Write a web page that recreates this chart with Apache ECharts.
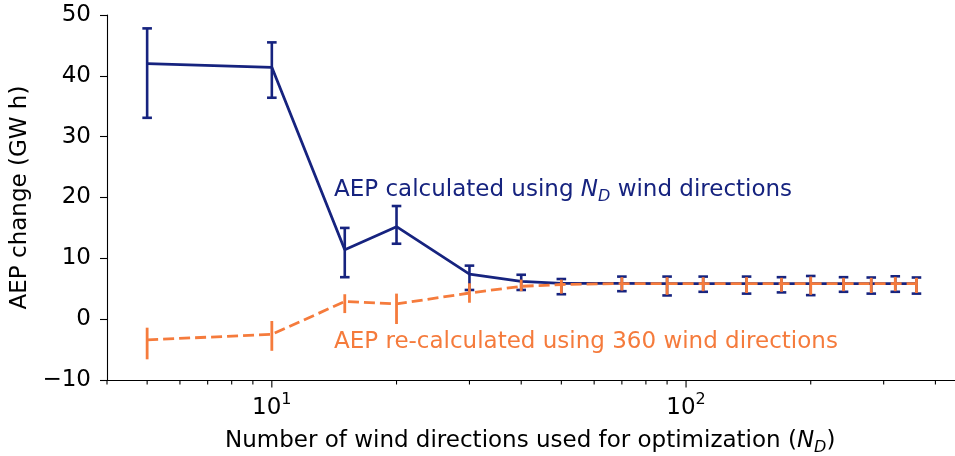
<!DOCTYPE html>
<html>
<head>
<meta charset="utf-8">
<script src="https://cdn.jsdelivr.net/npm/echarts@6/dist/echarts.min.js"></script>
<style>
html,body{margin:0;padding:0;background:#fff;}
#c{width:955px;height:456px;}
</style>
</head>
<body>
<div id="c"></div>
<script>
// Number of wind directions
var nD = [5, 10, 15, 20, 30, 40, 50, 70, 90, 110, 140, 170, 200, 240, 280, 320, 360];
// AEP calculated using N_D directions (GW h)
var calcMean = [42.0, 41.4, 11.4, 15.2, 7.4, 6.2, 5.9, 5.9, 5.85, 5.85, 5.85, 5.85, 5.85, 5.85, 5.85, 5.85, 5.85];
var calcLow  = [33.1, 36.4, 6.9, 12.4, 4.8, 4.8, 4.1, 4.6, 3.9, 4.5, 4.2, 4.4, 3.95, 4.5, 4.2, 4.5, 4.2];
var calcHigh = [47.8, 45.5, 15.0, 18.6, 8.8, 7.3, 6.6, 7.0, 7.0, 7.0, 7.0, 6.9, 7.1, 6.9, 6.85, 7.05, 6.85];
// AEP re-calculated using 360 directions (GW h)
var recMean = [-3.4, -2.5, 2.9, 2.5, 4.3, 5.4, 5.7, 5.85, 5.85, 5.85, 5.85, 5.85, 5.85, 5.85, 5.85, 5.85, 5.85];
var recLow  = [-6.6, -5.2, 1.0, -0.8, 2.7, 4.6, 4.2, 4.7, 4.0, 4.6, 4.3, 4.5, 4.0, 4.6, 4.3, 4.6, 4.3];
var recHigh = [-1.4, -0.3, 4.1, 4.2, 5.9, 6.5, 6.5, 6.9, 6.9, 6.9, 6.9, 6.8, 7.0, 6.8, 6.8, 6.95, 6.8];
// x axis ticks
var majorTicks = [10, 100];
var minorTicks = [4, 5, 6, 7, 8, 9, 20, 30, 40, 50, 60, 70, 80, 90, 200, 300, 400];
var yTicks = [-10, 0, 10, 20, 30, 40, 50];

var BLUE = '#16237f';
var ORANGE = '#f57b3c';
var FONT = 'DejaVu Sans';
var FS = 23;
var FSS = 16;

function pairs(xs, ys) { return xs.map(function (x, i) { return [x, ys[i]]; }); }
function triples(xs, lo, hi) { return xs.map(function (x, i) { return [x, lo[i], hi[i]]; }); }

function errRender(color, cap, width) {
  return function (params, api) {
    var p1 = api.coord([api.value(0), api.value(1)]);
    var p2 = api.coord([api.value(0), api.value(2)]);
    var children = [{
      type: 'line', shape: {x1: p1[0], y1: p1[1], x2: p2[0], y2: p2[1]},
      style: {stroke: color, lineWidth: width}
    }];
    if (cap > 0) {
      children.push({type: 'line', shape: {x1: p1[0] - cap, y1: p1[1], x2: p1[0] + cap, y2: p1[1]}, style: {stroke: color, lineWidth: width}});
      children.push({type: 'line', shape: {x1: p2[0] - cap, y1: p2[1], x2: p2[0] + cap, y2: p2[1]}, style: {stroke: color, lineWidth: width}});
    }
    return {type: 'group', children: children};
  };
}

function tickRender(len) {
  return function (params, api) {
    var p = api.coord([api.value(0), yTicks[0]]);
    return {type: 'line', shape: {x1: p[0], y1: p[1], x2: p[0], y2: p[1] + len},
      style: {stroke: '#000', lineWidth: 1.1}};
  };
}

var chart = echarts.init(document.getElementById('c'), null, {renderer: 'canvas'});
chart.setOption({
  animation: false,
  backgroundColor: '#fff',
  grid: {left: 107, right: -6, top: 15, bottom: 76, containLabel: false},
  xAxis: {
    type: 'log', logBase: 10, min: 4, max: 446,
    axisLine: {show: true, onZero: false, lineStyle: {color: '#000', width: 1.1}},
    axisTick: {show: false},
    minorTick: {show: false},
    splitLine: {show: false},
    axisLabel: {
      margin: 12,
      color: '#000',
      showMinLabel: false, showMaxLabel: false,
      formatter: function (v) {
        var e = Math.round(Math.log10(v));
        if (Math.abs(Math.log10(v) - e) > 1e-6 || majorTicks.indexOf(Math.pow(10, e)) < 0) return '';
        return '{b|10}{s|' + e + '}';
      },
      rich: {
        b: {fontFamily: FONT, fontSize: FS, color: '#000', lineHeight: 32},
        s: {fontFamily: FONT, fontSize: FSS, color: '#000', lineHeight: 18, verticalAlign: 'top'}
      }
    }
  },
  yAxis: {
    type: 'value', min: yTicks[0], max: yTicks[yTicks.length - 1], interval: 10,
    name: 'AEP change (GW h)', nameLocation: 'middle', nameRotate: 90, nameGap: 72,
    nameTextStyle: {fontFamily: FONT, fontSize: FS, color: '#000'},
    axisLine: {show: true, lineStyle: {color: '#000', width: 1.1}},
    axisTick: {show: true, length: 7, inside: false, lineStyle: {color: '#000', width: 1.1}},
    splitLine: {show: false},
    axisLabel: {
      margin: 16, color: '#000', fontFamily: FONT, fontSize: FS,
      formatter: function (v) { return String(v).replace('-', '\u2212'); }
    }
  },
  graphic: [
    {
      type: 'text', left: 334, top: 179, silent: true,
      style: {
        text: '{t|AEP calculated using }{i|N}{d|D}{t| wind directions}',
        rich: {
          t: {fontFamily: FONT, fontSize: FS, fill: BLUE, lineHeight: 28},
          i: {fontFamily: FONT, fontSize: FS, fill: BLUE, fontStyle: 'italic', lineHeight: 28},
          d: {fontFamily: FONT, fontSize: FSS, fill: BLUE, fontStyle: 'italic', lineHeight: 15, verticalAlign: 'bottom'}
        }
      }
    },
    {
      type: 'text', left: 334, top: 331, silent: true,
      style: {
        text: '{t|AEP re-calculated using 360 wind directions}',
        rich: {t: {fontFamily: FONT, fontSize: FS, fill: ORANGE, lineHeight: 28}}
      }
    },
    {
      type: 'text', left: 225, top: 430, silent: true,
      style: {
        text: '{t|Number of wind directions used for optimization (}{i|N}{d|D}{t|)}',
        rich: {
          t: {fontFamily: FONT, fontSize: FS, fill: '#000', lineHeight: 28},
          i: {fontFamily: FONT, fontSize: FS, fill: '#000', fontStyle: 'italic', lineHeight: 28},
          d: {fontFamily: FONT, fontSize: FSS, fill: '#000', fontStyle: 'italic', lineHeight: 15, verticalAlign: 'bottom'}
        }
      }
    }
  ],
  series: [
    {type: 'custom', name: 'majorTicks', renderItem: tickRender(7.5), data: majorTicks.map(function (v) { return [v]; }), clip: false, silent: true, z: 1},
    {type: 'custom', name: 'minorTicks', renderItem: tickRender(4.5), data: minorTicks.map(function (v) { return [v]; }), clip: false, silent: true, z: 1},
    {type: 'custom', name: 'calcErr', renderItem: errRender(BLUE, 4.8, 2.6), data: triples(nD, calcLow, calcHigh), clip: false, silent: true, z: 2},
    {type: 'line', name: 'calc', data: pairs(nD, calcMean), showSymbol: false, symbol: 'none',
      lineStyle: {color: BLUE, width: 2.8, type: 'solid'}, itemStyle: {color: BLUE}, z: 3, silent: true},
    {type: 'custom', name: 'recErr', renderItem: errRender(ORANGE, 0, 2.8), data: triples(nD, recLow, recHigh), clip: false, silent: true, z: 4},
    {type: 'line', name: 'rec', data: pairs(nD, recMean), showSymbol: false, symbol: 'none',
      lineStyle: {color: ORANGE, width: 2.8, type: [11, 5]}, itemStyle: {color: ORANGE}, z: 5, silent: true}
  ]
});
</script>
</body>
</html>
